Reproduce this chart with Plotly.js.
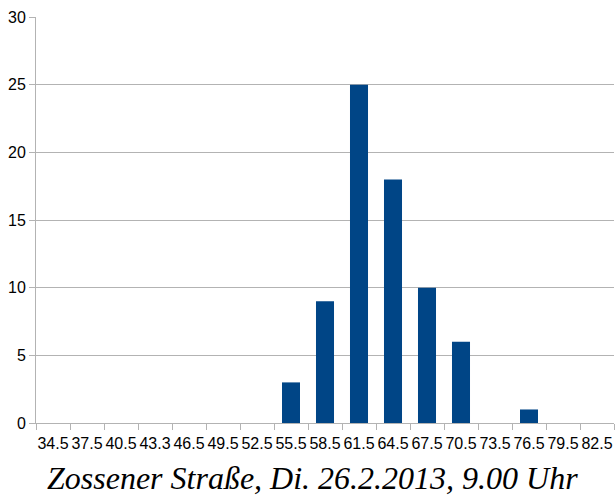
<!DOCTYPE html>
<html>
<head>
<meta charset="utf-8">
<script src="https://cdn.plot.ly/plotly-3.0.1.min.js"></script>
<style>html,body{margin:0;padding:0;background:#fff;}#chart{width:615px;height:495px;}</style>
</head>
<body>
<div id="chart"></div>
<script>
const categories = ["34.5","37.5","40.5","43.3","46.5","49.5","52.5","55.5","58.5","61.5","64.5","67.5","70.5","73.5","76.5","79.5","82.5"];
const counts = [0,0,0,0,0,0,0,3,9,25,18,10,6,0,1,0,0];
const chartTitle = "Zossener Straße, Di. 26.2.2013, 9.00 Uhr";

const tickFont = {family: "Liberation Sans, Arial, sans-serif", size: 16, color: "#000"};

Plotly.newPlot("chart", [{
  type: "bar",
  x: categories,
  y: counts,
  marker: {color: "#004586"},
  hoverinfo: "x+y"
}], {
  width: 615, height: 495,
  margin: {l: 36, r: 1, t: 17, b: 72, pad: 0},
  paper_bgcolor: "#fff", plot_bgcolor: "#fff",
  bargap: 0.47,
  showlegend: false,
  xaxis: {
    type: "category",
    tickson: "boundaries",
    tickangle: 0,
    ticklabelstandoff: 6,
    ticks: "outside", ticklen: 6, tickcolor: "#b3b3b3", tickwidth: 1,
    showline: true, linecolor: "#b3b3b3", linewidth: 1,
    showgrid: false, zeroline: false,
    tickfont: tickFont
  },
  yaxis: {
    range: [0, 30], dtick: 5, tick0: 0,
    ticks: "outside", ticklen: 6, tickcolor: "#b3b3b3", tickwidth: 1,
    showline: true, linecolor: "#b3b3b3", linewidth: 1,
    showgrid: true, gridcolor: "#b3b3b3", gridwidth: 1,
    zeroline: false,
    tickfont: tickFont
  },
  annotations: [{
    text: chartTitle,
    xref: "paper", yref: "paper",
    x: 0.479, y: -0.085, xanchor: "center", yanchor: "top",
    showarrow: false,
    font: {family: "Liberation Serif, Times New Roman, serif", size: 32, color: "#000", style: "italic"}
  }]
}, {displayModeBar: false, staticPlot: true});
</script>
</body>
</html>
